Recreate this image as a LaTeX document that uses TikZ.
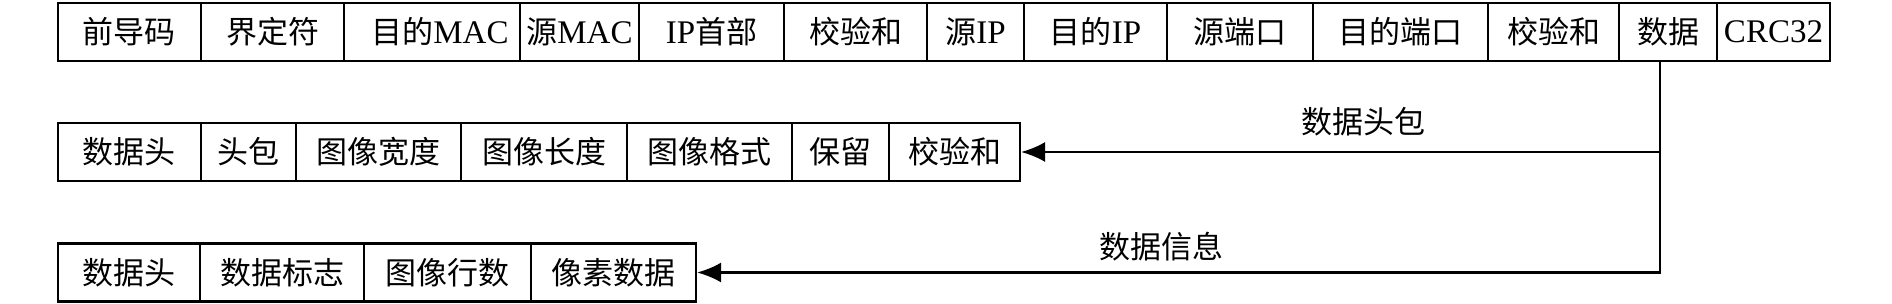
\documentclass[tikz,border=0pt]{standalone}
\usepackage{fontspec}
\setmainfont{Liberation Serif}
\newfontfamily\cjkfam{Noto Sans CJK SC}
\newcommand\cjk{\fontsize{15.5pt}{17pt}\selectfont\cjkfam}
\usetikzlibrary{arrows.meta}
\newcommand\mkcell[5]{\node[cellbox, minimum width={(#3-#2)*0.5pt}] (#1) at ({(#2+#3)/2},#4) {#5};}
\begin{document}
\begin{tikzpicture}[x=0.5pt,y=-0.5pt,
  cellbox/.style={draw, line width=1.1pt, rectangle, inner sep=0pt, minimum height=29pt, font=\fontsize{16.5pt}{18pt}\selectfont},
  lbl/.style={font=\cjk, inner sep=0pt},
  arr/.style={line width=1.1pt, -{Latex[length=12pt,width=10pt]}}]
\useasboundingbox (0,0) rectangle (1892,304);
% row 1
\mkcell{a1}{58}{201}{32}{\cjk 前导码}
\mkcell{a2}{201}{344}{32}{\cjk 界定符}
\mkcell{a3}{344}{520}{32}{\hspace{8pt}{\cjk 目的}MAC}
\mkcell{a4}{520}{639}{32}{{\cjk 源}MAC}
\mkcell{a5}{639}{784}{32}{IP{\cjk 首部}}
\mkcell{a6}{784}{927}{32}{\cjk 校验和}
\mkcell{a7}{927}{1024}{32}{{\cjk 源}IP}
\mkcell{a8}{1024}{1167}{32}{{\cjk 目的}IP}
\mkcell{a9}{1167}{1313}{32}{\cjk 源端口}
\mkcell{a10}{1313}{1488}{32}{\cjk 目的端口}
\mkcell{a11}{1488}{1619}{32}{\cjk 校验和}
\mkcell{a12}{1619}{1717}{32}{\cjk 数据}
\mkcell{a13}{1717}{1830}{32}{CRC32}
% row 2
\mkcell{b1}{58}{201}{152}{\cjk 数据头}
\mkcell{b2}{201}{296}{152}{\cjk 头包}
\mkcell{b3}{296}{461}{152}{\cjk 图像宽度}
\mkcell{b4}{461}{627}{152}{\cjk 图像长度}
\mkcell{b5}{627}{792}{152}{\cjk 图像格式}
\mkcell{b6}{792}{889}{152}{\cjk 保留}
\mkcell{b7}{889}{1020}{152}{\cjk 校验和}
% row 3
\mkcell{c1}{58}{200}{272.5}{\cjk 数据头}
\mkcell{c2}{200}{364}{272.5}{\cjk 数据标志}
\mkcell{c3}{364}{531}{272.5}{\cjk 图像行数}
\mkcell{c4}{531}{696}{272.5}{\cjk 像素数据}
% connectors
\draw[arr] ([xshift=-4pt]a12.south) |- (b7.east);
\draw[arr] ([xshift=-4pt]a12.south) |- (c4.east);
\node[lbl] (l1) at (1363,122) {数据头包};
\node[lbl] (l2) at (1161,247) {数据信息};
\end{tikzpicture}
\end{document}
